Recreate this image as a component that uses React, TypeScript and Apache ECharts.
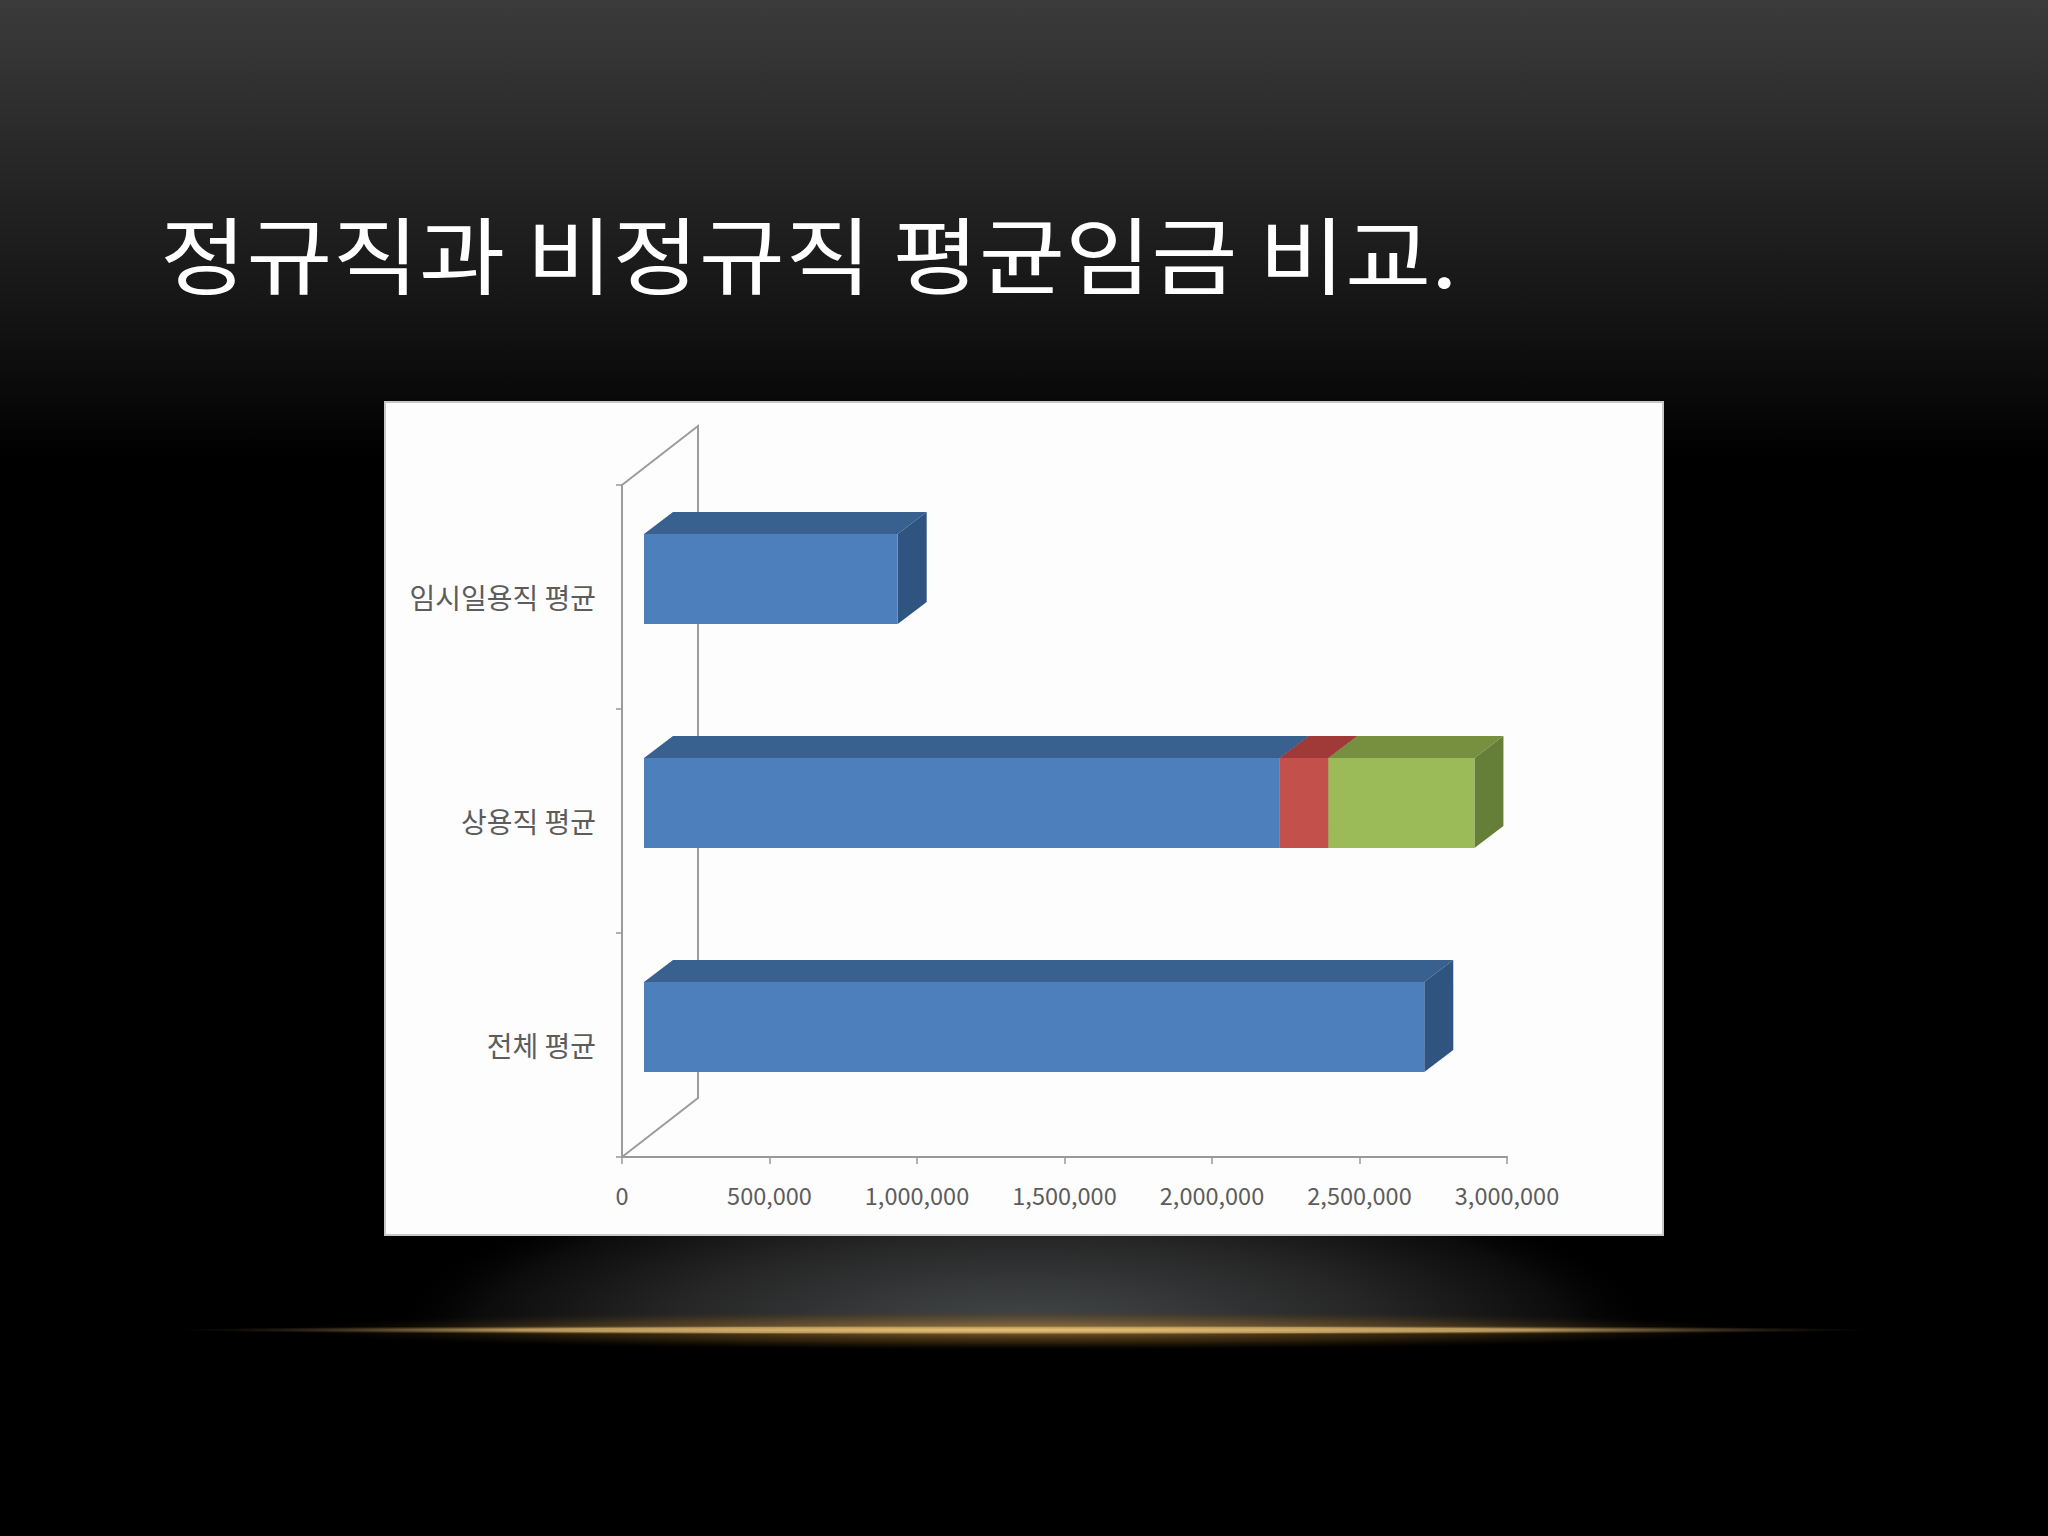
import React, { useEffect, useRef } from "react";
import * as echarts from "echarts";

const TITLE = "정규직과 비정규직 평균임금 비교.";
// bottom-to-top, as a category axis draws them
const categories = ["전체 평균", "상용직 평균", "임시일용직 평균"];
const blueValues = [2645000, 2155000, 860000];
const redValues = [0, 165000, 0];
const greenValues = [0, 495000, 0];
const AXIS_MAX = 3000000;
const AXIS_STEP = 500000;

const blueFaces = { front: "#4e7fbd", top: "#38618f", side: "#2f5480" };
const redFaces = { front: "#c4504c", top: "#a03a38", side: "#8f3230" };
const greenFaces = { front: "#9bbb59", top: "#76903f", side: "#667f38" };

const FONT = '"Noto Sans CJK KR", "Noto Sans", sans-serif';
const G = { left: 622, top: 485, width: 885, height: 672 };
const WALL_DX = 76;
const WALL_DY = 59;
const FRONT_DX = 22;
const FRONT_DY = 18;
const BAR_H = 90;
const TOP_DX = 29;
const TOP_DY = 22;

type Faces = { front: string; top: string; side: string };

function segment(name: string, values: number[], bases: number[], faces: Faces) {
  return {
    type: "custom",
    name,
    z: 4,
    coordinateSystem: "cartesian2d",
    data: values
      .map((v, i) => [bases[i], bases[i] + v, i])
      .filter((d) => d[1] > d[0]),
    encode: { x: [0, 1], y: 2 },
    renderItem: (_: unknown, api: any) => {
      const a = api.coord([api.value(0), api.value(2)]);
      const b = api.coord([api.value(1), api.value(2)]);
      const x0 = a[0] + FRONT_DX;
      const x1 = b[0] + FRONT_DX;
      const y0 = a[1] - FRONT_DY - BAR_H / 2;
      const y1 = y0 + BAR_H;
      return {
        type: "group",
        children: [
          {
            type: "polygon",
            shape: { points: [[x0, y0], [x0 + TOP_DX, y0 - TOP_DY], [x1 + TOP_DX, y0 - TOP_DY], [x1, y0]] },
            style: { fill: faces.top },
          },
          {
            type: "polygon",
            shape: { points: [[x1, y0], [x1 + TOP_DX, y0 - TOP_DY], [x1 + TOP_DX, y1 - TOP_DY], [x1, y1]] },
            style: { fill: faces.side },
          },
          { type: "rect", shape: { x: x0, y: y0, width: x1 - x0, height: BAR_H }, style: { fill: faces.front } },
        ],
      };
    },
  };
}

function radial(stops: [number, string][]) {
  return new echarts.graphic.RadialGradient(
    0.5,
    0.5,
    0.5,
    stops.map(([offset, color]) => ({ offset, color }))
  );
}

export default function App() {
  const ref = useRef<HTMLDivElement>(null);
  useEffect(() => {
    document.body.style.margin = "0";
    document.body.style.background = "#000";
    const chart = echarts.init(ref.current!, undefined, { renderer: "svg" });
    const redBases = blueValues.slice();
    const greenBases = blueValues.map((v, i) => v + redValues[i]);
    const zeros = blueValues.map(() => 0);
    const wx = G.left + WALL_DX;
    const axisY = G.top + G.height;
    chart.setOption({
      animation: false,
      backgroundColor: new echarts.graphic.LinearGradient(0, 0, 0, 1, [
        { offset: 0, color: "#3b3b3b" },
        { offset: 0.1, color: "#282828" },
        { offset: 0.2, color: "#151515" },
        { offset: 0.3, color: "#000000" },
        { offset: 1, color: "#000000" },
      ]),
      graphic: {
        elements: [
          {
            type: "ellipse",
            z: 0,
            shape: { cx: 1024, cy: 1330, rx: 640, ry: 170 },
            style: { fill: radial([[0, "#45494b"], [0.55, "#262626"], [0.85, "#0c0c0c"], [1, "rgba(0,0,0,0)"]]) },
          },
          { type: "rect", z: 0, shape: { x: 0, y: 1331, width: 2048, height: 205 }, style: { fill: "#000" } },
          {
            type: "ellipse",
            z: 0,
            shape: { cx: 1024, cy: 1330, rx: 740, ry: 20 },
            style: { fill: radial([[0, "rgba(190,140,65,0.75)"], [0.65, "rgba(120,85,30,0.35)"], [1, "rgba(60,40,10,0)"]]) },
          },
          {
            type: "ellipse",
            z: 0,
            shape: { cx: 1024, cy: 1330, rx: 850, ry: 5 },
            style: { fill: radial([[0, "#e8c476"], [0.6, "#b8965a"], [1, "rgba(70,60,40,0)"]]) },
          },
          {
            type: "rect",
            z: 1,
            shape: { x: 385, y: 402, width: 1278, height: 833 },
            style: { fill: "#fdfdfd", stroke: "#c8c8c8", lineWidth: 2 },
          },
          {
            type: "polyline",
            z: 2,
            shape: {
              points: [
                [G.left, G.top],
                [wx, G.top - WALL_DY],
                [wx, axisY - WALL_DY],
                [G.left, axisY],
              ],
            },
            style: { stroke: "#9c9c9c", lineWidth: 2, fill: "none" },
          },
          {
            type: "text",
            z: 2,
            x: 160,
            y: 252,
            scaleX: 1.117,
            style: {
              text: TITLE,
              fill: "#ffffff",
              font: `400 84px ${FONT}`,
              verticalAlign: "middle",
            },
          },
        ],
      },
      grid: { ...G, containLabel: false },
      xAxis: {
        type: "value",
        z: 3,
        min: 0,
        max: AXIS_MAX,
        interval: AXIS_STEP,
        splitLine: { show: false },
        axisLine: { show: true, lineStyle: { color: "#999999", width: 2 } },
        axisTick: { show: true, length: 7, lineStyle: { color: "#999999", width: 1.5 } },
        axisLabel: {
          color: "#5c5c5c",
          fontFamily: FONT,
          fontSize: 23.5,
          margin: 26,
          formatter: (v: number) => v.toLocaleString("en-US"),
        },
      },
      yAxis: {
        type: "category",
        z: 3,
        data: categories,
        axisLine: { show: true, lineStyle: { color: "#9c9c9c", width: 2 } },
        axisTick: { show: true, length: 6, lineStyle: { color: "#999999", width: 1.5 } },
        axisLabel: { color: "#5c5c5c", fontFamily: FONT, fontSize: 28, margin: 26 },
      },
      series: [
        segment("blue", blueValues, zeros, blueFaces),
        segment("red", redValues, redBases, redFaces),
        segment("green", greenValues, greenBases, greenFaces),
      ],
    });
    return () => chart.dispose();
  }, []);
  return <div ref={ref} style={{ width: 2048, height: 1536 }} />;
}
